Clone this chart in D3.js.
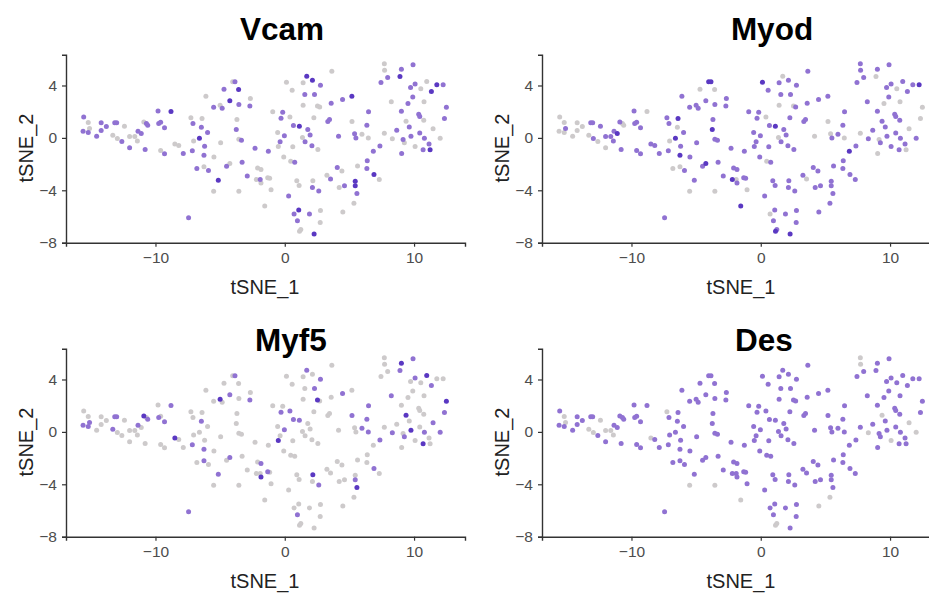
<!DOCTYPE html>
<html>
<head>
<meta charset="utf-8">
<script src="https://cdn.jsdelivr.net/npm/d3@7"></script>
<style>
  body { margin: 0; background: #fff; }
  text { font-family: "Liberation Sans", Arial, sans-serif; }
</style>
</head>
<body>
<svg id="chart" width="929" height="593"></svg>
<script>
// tSNE coordinates of each cell (same cells in every panel)
const tsne1 = [-15.55,-15.2,-15.1,-15.6,-15.2,-14.55,-14.2,-14.2,-13.8,-13.15,
  -13.0,-13.3,-12.95,-12.6,-12.4,-12.0,-12.0,-11.6,-11.4,-11.35,
  -11.1,-10.9,-10.7,-10.6,-10.8,-9.8,-9.6,-9.75,-9.3,-8.8,
  -9.6,-9.3,-8.5,-8.2,-7.85,-7.44,-7.26,-7.1,-7.05,-7.15,
  -6.6,-6.8,-6.4,-6.45,-6.2,-6.25,-6.1,-6.25,-5.9,-5.97,
  -5.5,-5.48,-5.5,-5.14,-4.96,-5.0,-4.84,-4.7,-4.5,-4.25,
  -4.25,-4.03,-3.85,-3.57,-3.55,-3.7,-3.75,-3.55,-3.35,-3.3,
  -3.55,-2.9,-2.66,-2.7,-2.3,-2.1,-1.84,-2.2,-1.9,-1.84,
  -1.27,-1.32,-1.17,-1.55,-1.06,-0.93,-0.55,-0.5,-0.36,-0.29,
  -0.16,-0.03,0.13,-0.08,0.3,0.4,0.57,0.67,0.62,0.46,
  0.77,0.72,1.08,0.98,1.14,1.24,0.93,1.11,1.13,1.37,
  1.42,1.42,1.55,1.7,1.57,1.78,1.96,1.91,2.14,2.1,
  2.14,2.27,2.3,2.25,2.53,2.7,2.76,2.56,2.63,2.17,
  2.74,2.76,3.64,3.59,3.33,3.46,3.26,3.54,4.16,4.06,
  4.42,4.21,4.47,4.62,4.49,5.19,5.2,5.4,5.5,5.35,
  5.45,5.45,5.58,5.63,5.97,6.46,6.48,6.35,6.38,6.35,
  6.9,6.85,7.31,7.36,7.44,7.7,7.72,7.96,7.7,8.24,
  8.32,8.66,9.02,8.91,9.04,9.02,9.15,9.25,9.38,9.53,
  9.63,9.73,9.76,9.92,9.9,10.08,10.08,10.44,10.52,10.36,
  10.44,10.75,10.7,10.98,10.77,10.8,11.16,11.24,11.34,11.47,
  11.76,12.02,12.25,12.35,12.5];
const tsne2 = [1.6,1.17,0.71,0.51,0.41,0.13,0.56,1.15,0.87,1.15,
  1.15,0.2,-0.05,-0.28,0.89,0.1,-0.76,0.1,-0.23,0.51,
  0.33,1.22,1.1,0.97,-0.89,2.06,1.2,1.1,0.77,2.01,
  -0.97,-1.22,-0.46,-0.59,-1.2,-6.1,1.53,1.1,-0.23,-0.99,
  -0.02,-2.34,1.48,0.81,-0.64,-1.32,3.18,-2.21,-2.49,0.41,
  2.34,-1.45,-4.07,-3.23,-0.38,2.5,2.27,3.71,-2.16,-1.96,
  2.83,4.28,4.28,3.69,2.55,1.4,0.64,-0.1,-0.18,-1.86,
  -4.07,-2.9,3.0,2.44,-0.79,-2.29,-2.42,-3.18,-3.18,-3.44,
  -1.02,-3.05,-3.08,-5.2,-3.96,1.99,0.41,-0.66,-0.3,1.5,
  1.96,0.16,4.25,-1.45,-4.43,1.6,3.64,0.94,-0.68,-1.78,
  -1.86,-5.8,-5.5,-6.33,-7.12,-7.0,-3.28,-3.63,0.89,0.03,
  4.2,2.5,3.31,4.7,-0.3,0.64,0.23,-5.8,4.4,-0.6,
  -3.79,-7.33,3.31,1.53,2.44,2.36,4.02,-0.89,-4.06,-3.28,
  -6.46,-5.55,5.09,2.64,1.25,1.4,-2.85,-3.13,0.13,-2.26,
  -2.52,-3.79,2.93,-3.66,-5.65,3.18,1.25,0.31,0.0,-4.98,
  -3.3,-3.66,-4.25,-2.14,0.28,0.0,1.99,0.97,-1.75,-2.34,
  -2.8,-1.02,-3.18,-0.61,4.22,5.65,5.17,4.61,0.36,2.75,
  -0.07,0.59,5.24,4.68,-1.19,2.04,-0.12,-0.38,1.27,2.62,
  0.84,3.84,0.13,5.58,3.13,4.12,-0.66,0.38,3.76,1.81,
  1.63,1.35,-0.91,4.3,2.75,-0.02,-0.46,-0.91,3.54,0.69,
  4.05,-0.02,4.05,1.48,2.34];

// expression level per cell: 0 = none, 1 = medium, 2 = high
const vcam = [1,0,0,1,1,1,1,1,1,1, 1,0,0,1,0,0,1,0,0,1, 1,0,1,1,1,1,1,1,1,2,
  0,1,0,0,1,1,0,1,0,1, 2,1,0,1,1,1,0,0,1,1, 1,0,0,2,0,0,1,1,1,0,
  2,0,1,2,1,0,1,0,1,1, 0,1,0,1,1,0,0,0,1,0, 1,0,0,0,0,0,0,0,1,1,
  1,1,0,0,1,0,0,1,0,0, 1,1,2,1,0,0,0,0,2,0, 0,0,1,2,1,1,1,1,2,1,
  1,2,1,0,0,0,1,0,1,0, 0,0,0,1,1,1,0,1,1,1, 0,0,1,1,0,2,0,1,1,0,
  2,2,1,0,0,0,1,1,1,1, 2,1,0,1,1,0,0,1,0,0, 0,1,1,2,1,1,1,0,0,1,
  1,1,1,1,1,1,0,1,0,1, 1,0,1,0,0,1,1,2,2,0, 2,0,1,1,1];
const myod = [0,0,1,0,0,0,0,0,0,1, 1,0,1,0,1,1,0,1,1,1, 2,1,0,0,1,1,1,1,1,0,
  1,1,1,1,1,1,1,1,0,1, 2,0,2,0,1,2,1,0,1,1, 1,1,0,1,1,1,1,0,1,2,
  1,2,2,0,1,1,2,1,1,1, 0,1,1,1,1,1,1,2,0,1, 1,1,1,2,0,1,1,1,1,1,
  1,1,2,1,1,0,1,1,1,0, 1,0,1,1,2,1,1,1,2,0, 1,0,1,0,1,1,1,1,1,1,
  1,2,1,1,0,1,1,1,1,1, 1,1,1,1,1,1,1,0,0,1, 1,1,1,1,1,1,0,0,1,1,
  1,1,1,1,1,0,1,1,1,1, 1,2,1,1,1,1,1,1,0,1, 1,1,1,0,0,1,0,1,1,0,
  1,1,1,1,1,1,1,1,0,1, 1,1,1,1,0,1,1,0,1,0, 1,1,2,0,0];
const myf5 = [0,0,1,1,1,0,0,0,0,1, 1,1,0,0,0,0,0,0,0,1, 0,2,0,1,0,0,0,1,1,1,
  0,0,2,0,0,1,0,0,0,1, 0,0,0,1,0,1,0,1,0,0, 0,0,0,1,0,2,0,0,0,1,
  1,0,1,0,0,0,0,0,0,0, 0,0,0,1,0,0,1,0,0,2, 0,1,0,0,0,0,0,2,0,1,
  0,1,0,0,0,1,0,1,0,0, 0,0,0,1,0,0,0,0,1,0, 0,0,0,1,0,0,0,0,0,0,
  0,0,1,0,2,0,1,0,1,2, 0,0,0,0,0,0,0,0,0,0, 0,0,1,0,0,0,1,0,0,0,
  0,1,2,0,1,1,1,1,0,0, 1,0,0,1,0,0,0,0,0,1, 1,0,2,1,0,0,0,1,2,0,
  0,0,2,1,0,1,0,0,0,0, 0,0,2,2,0,1,0,0,1,1, 0,1,0,1,2];
const des = [1,0,0,1,1,1,1,1,1,1, 1,0,0,1,0,0,1,0,0,1, 1,1,1,1,1,1,1,1,1,1,
  1,1,0,1,1,1,0,1,1,1, 1,1,1,1,1,1,1,1,1,1, 1,1,0,1,1,1,1,1,1,1,
  1,1,1,1,1,1,1,1,1,1, 0,1,1,1,1,1,1,1,1,1, 1,1,1,0,1,1,1,1,1,1,
  1,1,1,1,1,1,1,1,1,1, 1,1,1,1,0,0,1,1,1,1, 1,1,1,1,1,1,1,1,1,1,
  1,1,1,1,1,1,1,1,1,1, 1,1,1,1,1,1,1,1,1,1, 1,1,1,1,0,1,1,1,1,0,
  1,1,1,1,1,1,1,1,1,1, 1,1,1,1,1,0,0,1,1,1, 0,1,1,1,1,1,1,1,0,1,
  1,1,1,1,1,1,0,1,1,1, 1,1,1,1,1,1,1,1,1,0, 1,0,1,1,1];

const genes = ["Vcam", "Myod", "Myf5", "Des"];
const xTicks = [-10, 0, 10];
const yTicks = [-8, -4, 0, 4];

const svg = d3.select("#chart");
const x = d3.scaleLinear().domain([-16.92, 13.94]).range([66, 465]);
const y = d3.scaleLinear().domain([-8, 6.35]).range([242.7, 54.7]);
const color = d3.scaleLinear().domain([0, 1, 2]).range(["#cdcacb", "#9072d2", "#5a38c2"]);

// panel offsets; title position is relative to the panel
const panels = [
  { gene: genes[0], vals: vcam, dx: 0, dy: 0, tx: 282, ty: 39.5 },
  { gene: genes[1], vals: myod, dx: 476, dy: 0, tx: 296, ty: 39.5 },
  { gene: genes[2], vals: myf5, dx: 0, dy: 294, tx: 291, ty: 56.5 },
  { gene: genes[3], vals: des, dx: 476, dy: 294, tx: 288, ty: 56.5 }
];

panels.forEach(p => {
  const g = svg.append("g").attr("transform", `translate(${p.dx},${p.dy})`);

  const cells = tsne1.map((v, i) => ({ t1: v, t2: tsne2[i], e: p.vals[i] }));
  // grey cells first so expressing cells sit on top
  cells.sort((a, b) => a.e - b.e);
  g.append("g").selectAll("circle")
    .data(cells).enter().append("circle")
    .attr("cx", d => x(d.t1))
    .attr("cy", d => y(d.t2))
    .attr("r", 2.5)
    .attr("fill", d => color(d.e));

  const xAxis = g.append("g").attr("transform", "translate(0,242.7)")
    .call(d3.axisBottom(x).tickValues(xTicks).tickSize(4).tickPadding(5));
  const yAxis = g.append("g").attr("transform", "translate(66,0)")
    .call(d3.axisLeft(y).tickValues(yTicks).tickSize(4).tickPadding(5));
  [xAxis, yAxis].forEach(a => {
    a.select(".domain").attr("stroke", "#333").attr("stroke-width", 1.4);
    a.selectAll(".tick line").attr("stroke", "#333").attr("stroke-width", 1.2);
    a.selectAll(".tick text").attr("font-size", 15.5).attr("fill", "#4d4d4d")
      .attr("font-family", "'Liberation Sans', Arial, sans-serif");
  });

  g.append("text")
    .attr("x", p.tx).attr("y", p.ty)
    .attr("text-anchor", "middle")
    .attr("font-size", 31.5).attr("font-weight", "bold")
    .attr("fill", "#000")
    .text(p.gene);

  g.append("text")
    .attr("x", 265).attr("y", 293.5)
    .attr("text-anchor", "middle")
    .attr("font-size", 20).attr("fill", "#222")
    .text("tSNE_1");
  g.append("text")
    .attr("transform", "translate(33,148) rotate(-90)")
    .attr("text-anchor", "middle")
    .attr("font-size", 20).attr("fill", "#222")
    .text("tSNE_2");
});
</script>
</body>
</html>
